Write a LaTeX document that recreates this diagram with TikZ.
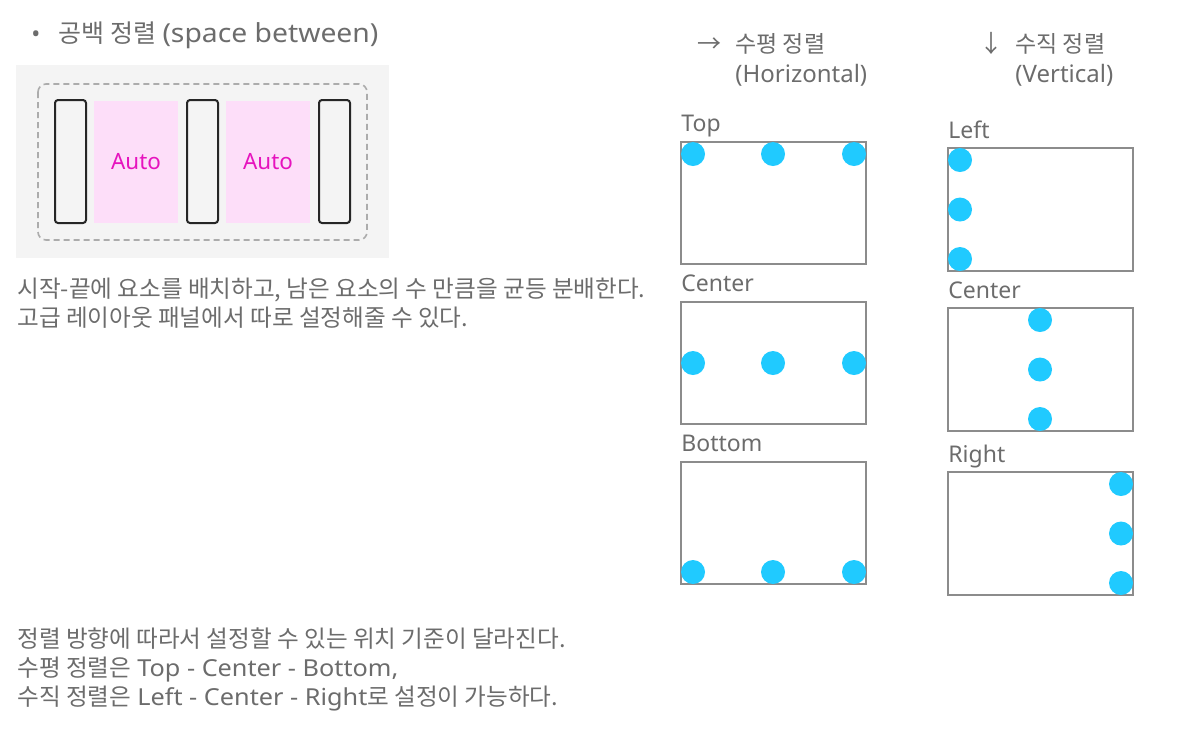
\documentclass[tikz,border=0pt]{standalone}
\usepackage{fontspec}
\setmainfont{Noto Sans}
\newfontfamily\kr{Noto Sans CJK KR}
\newfontfamily\wide{Noto Sans}[FakeStretch=1.08]
\definecolor{txtgray}{RGB}{108,108,108}
\definecolor{framegray}{RGB}{140,140,140}
\definecolor{dotblue}{RGB}{32,202,255}
\definecolor{panelgray}{RGB}{244,244,244}
\definecolor{dashgray}{RGB}{172,172,172}
\definecolor{autopink}{RGB}{253,222,249}
\definecolor{automag}{RGB}{230,20,190}
\tikzset{
  txt/.style={anchor=base west, inner sep=0pt, text=txtgray},
  body/.style={txt, font=\fontsize{11.8}{13}\selectfont},
  head/.style={txt, font=\fontsize{12}{14}\selectfont},
  lbl/.style={txt, font=\fontsize{11.5}{13}\selectfont},
  frame/.style={draw=framegray, line width=1pt},
  dot/.style={fill=dotblue},
  fixbox/.style={draw=black!85, fill=panelgray, rounded corners=1.5pt, line width=1pt},
}
\newcommand\latin[1]{{\wide\fontsize{11.7}{14}\selectfont #1}}
\begin{document}
\begin{tikzpicture}[x=0.5pt,y=-0.5pt]
\useasboundingbox (0,0) rectangle (1199,736);
% space between
\node[head] (bul) at (31,42) {•};
\node[txt, font=\fontsize{12.5}{14}\selectfont] (title) at (58,42) {{\kr 공백 정렬} {\wide\fontsize{13.1}{15}\selectfont (space between)}};
\fill[panelgray] (16,65) coordinate (p1) rectangle (389,258) coordinate (p2);
\draw[dashgray, dashed, dash pattern=on 3pt off 2pt, rounded corners=4pt, line width=0.8pt]
  (38,84) rectangle (367,240);
\foreach \x/\n in {55/a,187/b,319/c}
  \draw[fixbox] (\x,100) rectangle ++(31,123);
\foreach \x/\n in {94/a,226/b}{
  \fill[autopink] (\x,101) rectangle ++(84,122);
  \node[font=\fontsize{11.2}{13}\selectfont, text=automag] (auto\n) at (\x+42,162) {Auto};
}
\node[body] (desc1) at (17,297) {\kr 시작-끝에 요소를 배치하고, 남은 요소의 수 만큼을 균등 분배한다.};
\node[body] (desc2) at (17,326) {\kr 고급 레이아웃 패널에서 따로 설정해줄 수 있다.};
% horizontal
\node[head] (harr) at (697,52) {\kr →};
\node[head] (hhead) at (735,52) {\kr\fontsize{11.5}{13}\selectfont 수평 정렬};
\node[head] (hsub) at (735,82) {(Horizontal)};
\foreach \t/\n/\y in {142/Top/154,302/Center/363,462/Bottom/572}{
  \node[lbl] (h\n) at (681,\t-11) {\n};
  \draw[frame] (681,\t) rectangle (866,\t+122);
  \foreach \x in {693,773,854}
    \fill[dot] (\x,\y) circle[radius=6pt];
}
% vertical
\node[head] (varr) at (979,52) {\kr ↓};
\node[head] (vhead) at (1015,52) {\kr\fontsize{11.5}{13}\selectfont 수직 정렬};
\node[head] (vsub) at (1015,82) {(Vertical)};
\foreach \t/\n/\x in {148/Left/960,308/Center/1040,472/Right/1121}{
  \node[lbl] (v\n) at (948,\t-10) {\n};
  \draw[frame] (948,\t) rectangle (1133,\t+123);
  \foreach \y in {12,61.5,111}
    \fill[dot] (\x,\t+\y) circle[radius=6pt];
}
% notes
\node[body] (note1) at (17,647) {\kr 정렬 방향에 따라서 설정할 수 있는 위치 기준이 달라진다.};
\node[body] (note2) at (17,676) {{\kr 수평 정렬은} \latin{Top - Center - Bottom,}};
\node[body] (note3) at (17,705) {{\kr 수직 정렬은} \latin{Left - Center - Right}{\kr 로 설정이 가능하다.}};
\end{tikzpicture}
\end{document}
